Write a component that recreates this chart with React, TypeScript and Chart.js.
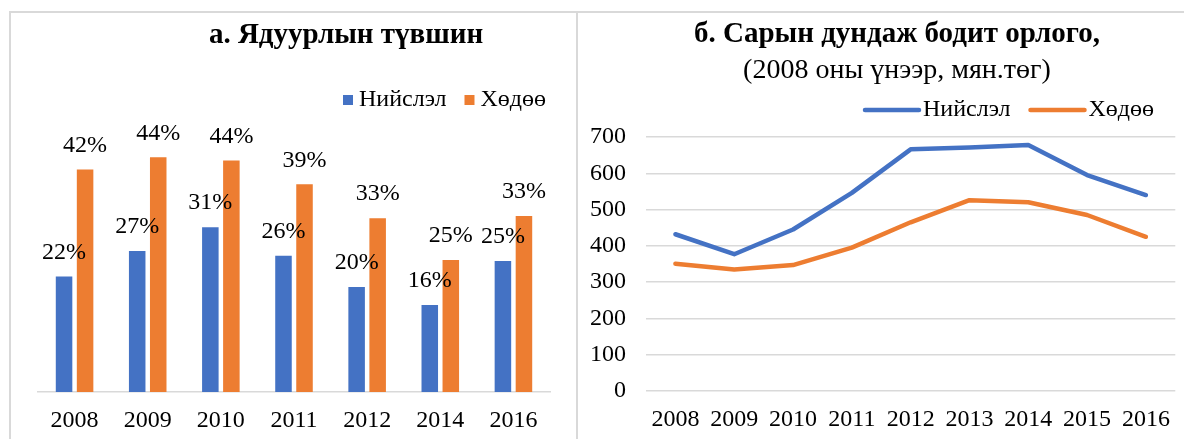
import React, { useEffect, useRef } from "react";
import { Chart, registerables } from "chart.js";

Chart.register(...registerables);

const FONT = "'Liberation Serif', 'Times New Roman', Times, serif";
const BLUE = "#4472C4";
const ORANGE = "#ED7D31";
const GRID = "#D9D9D9";
const TEXT = "#000000";

const seriesNames = ["Нийслэл", "Хөдөө"];

const povertyTitle = "а. Ядуурлын түвшин";
const povertyYears = ["2008", "2009", "2010", "2011", "2012", "2014", "2016"];
const povertyCapital = [0.218, 0.266, 0.311, 0.257, 0.198, 0.164, 0.247];
const povertyRural = [0.42, 0.443, 0.437, 0.392, 0.328, 0.249, 0.332];

const incomeTitle1 = "б. Сарын дундаж бодит орлого,";
const incomeTitle2 = "(2008 оны үнээр, мян.төг)";
const incomeYears = ["2008", "2009", "2010", "2011", "2012", "2013", "2014", "2015", "2016"];
const incomeCapital = [432, 377, 445, 546, 666, 671, 678, 595, 540];
const incomeRural = [351, 335, 347, 395, 465, 526, 520, 485, 425];
const incomeMax = 700;
const incomeStep = 100;

function PovertyChart() {
  const ref = useRef<HTMLCanvasElement | null>(null);
  useEffect(() => {
    if (!ref.current) return;
    const overlay = {
      id: "povertyOverlay",
      afterDatasetsDraw(chart: any) {
        const ctx = chart.ctx;
        ctx.save();
        ctx.font = `24px ${FONT}`;
        ctx.fillStyle = TEXT;
        ctx.textAlign = "center";
        ctx.textBaseline = "middle";
        chart.data.datasets.forEach((ds: any, di: number) => {
          const meta = chart.getDatasetMeta(di);
          meta.data.forEach((bar: any, i: number) => {
            const v = Math.round((ds.data[i] as number) * 100) + "%";
            ctx.fillText(v, bar.x, bar.y - 24);
          });
        });
        ctx.restore();
      },
      afterDraw(chart: any) {
        const ctx = chart.ctx;
        ctx.save();
        ctx.fillStyle = TEXT;
        ctx.textBaseline = "middle";
        ctx.textAlign = "center";
        ctx.font = `bold 29px ${FONT}`;
        ctx.fillText(povertyTitle, 335, 23);
        // legend
        ctx.font = `24px ${FONT}`;
        ctx.textAlign = "left";
        const colors = [BLUE, ORANGE];
        let x = 332;
        const y = 87;
        seriesNames.forEach((name, i) => {
          ctx.fillStyle = colors[i];
          ctx.fillRect(x, y - 5, 10, 10);
          x += 16;
          ctx.fillStyle = TEXT;
          ctx.fillText(name, x, y);
          x += ctx.measureText(name).width + 18;
        });
        ctx.restore();
      },
    };
    const chart = new Chart(ref.current, {
      type: "bar",
      data: {
        labels: povertyYears,
        datasets: [
          {
            label: seriesNames[0],
            data: povertyCapital,
            backgroundColor: BLUE,
            categoryPercentage: 0.575,
            barPercentage: 0.786,
          },
          {
            label: seriesNames[1],
            data: povertyRural,
            backgroundColor: ORANGE,
            categoryPercentage: 0.575,
            barPercentage: 0.786,
          },
        ],
      },
      options: {
        responsive: false,
        animation: false,
        layout: { padding: { left: 27, right: 26, top: 114, bottom: 0 } },
        plugins: {
          legend: { display: false },
          title: { display: false },
          tooltip: { enabled: false },
        },
        scales: {
          x: {
            grid: { display: false, drawTicks: false },
            border: { display: true, color: GRID, width: 1.5 },
            ticks: { color: TEXT, font: { family: FONT, size: 24 }, padding: 14 },
            afterFit: (s: any) => {
              s.height = 47;
            },
          },
          y: { display: false, min: 0, max: 0.5 },
        },
      },
      plugins: [overlay],
    } as any);
    return () => chart.destroy();
  }, []);
  return (
    <canvas
      ref={ref}
      width={565}
      height={426}
      style={{ position: "absolute", left: 11, top: 13, width: 565, height: 426 }}
    />
  );
}

function IncomeChart() {
  const ref = useRef<HTMLCanvasElement | null>(null);
  useEffect(() => {
    if (!ref.current) return;
    const overlay = {
      id: "incomeOverlay",
      afterDraw(chart: any) {
        const ctx = chart.ctx;
        ctx.save();
        ctx.fillStyle = TEXT;
        ctx.textBaseline = "middle";
        ctx.textAlign = "center";
        ctx.font = `bold 29px ${FONT}`;
        ctx.fillText(incomeTitle1, 319, 22);
        ctx.font = `28px ${FONT}`;
        ctx.fillText(incomeTitle2, 319, 58);
        // legend
        ctx.font = `24px ${FONT}`;
        ctx.textAlign = "left";
        const colors = [BLUE, ORANGE];
        let x = 287;
        const y = 97;
        seriesNames.forEach((name, i) => {
          ctx.strokeStyle = colors[i];
          ctx.lineWidth = 4.5;
          ctx.lineCap = "round";
          ctx.beginPath();
          ctx.moveTo(x, y);
          ctx.lineTo(x + 54, y);
          ctx.stroke();
          x += 58;
          ctx.fillStyle = TEXT;
          ctx.fillText(name, x, y);
          x += ctx.measureText(name).width + 20;
        });
        ctx.restore();
      },
    };
    const chart = new Chart(ref.current, {
      type: "line",
      data: {
        labels: incomeYears,
        datasets: [
          {
            label: seriesNames[0],
            data: incomeCapital,
            borderColor: BLUE,
            backgroundColor: BLUE,
            borderWidth: 4.5,
            pointRadius: 0,
            tension: 0,
            borderCapStyle: "round",
            borderJoinStyle: "round",
          },
          {
            label: seriesNames[1],
            data: incomeRural,
            borderColor: ORANGE,
            backgroundColor: ORANGE,
            borderWidth: 4.5,
            pointRadius: 0,
            tension: 0,
            borderCapStyle: "round",
            borderJoinStyle: "round",
          },
        ],
      },
      options: {
        responsive: false,
        animation: false,
        layout: { padding: { left: 0, right: 2, top: 124, bottom: 0 } },
        plugins: {
          legend: { display: false },
          title: { display: false },
          tooltip: { enabled: false },
        },
        scales: {
          x: {
            offset: true,
            grid: { display: false, drawTicks: false },
            border: { display: false },
            ticks: { color: TEXT, font: { family: FONT, size: 24 }, padding: 14 },
            afterFit: (s: any) => {
              s.height = 48;
            },
          },
          y: {
            min: 0,
            max: incomeMax,
            ticks: {
              stepSize: incomeStep,
              color: TEXT,
              font: { family: FONT, size: 24 },
              padding: 20,
            },
            grid: { color: GRID, lineWidth: 1.5, drawTicks: false },
            border: { display: false },
            afterFit: (s: any) => {
              s.width = 68;
            },
          },
        },
      },
      plugins: [overlay],
    } as any);
    return () => chart.destroy();
  }, []);
  return (
    <canvas
      ref={ref}
      width={606}
      height={426}
      style={{ position: "absolute", left: 578, top: 13, width: 606, height: 426 }}
    />
  );
}

export default function App() {
  return (
    <div
      style={{
        position: "fixed",
        left: 0,
        top: 0,
        width: 1184,
        height: 439,
        background: "#ffffff",
        overflow: "hidden",
      }}
    >
      <div
        style={{
          position: "absolute",
          left: 9,
          top: 11,
          width: 1300,
          height: 600,
          border: `2px solid ${GRID}`,
          boxSizing: "border-box",
        }}
      />
      <div
        style={{
          position: "absolute",
          left: 576,
          top: 12,
          width: 2,
          height: 440,
          background: GRID,
        }}
      />
      <PovertyChart />
      <IncomeChart />
    </div>
  );
}
